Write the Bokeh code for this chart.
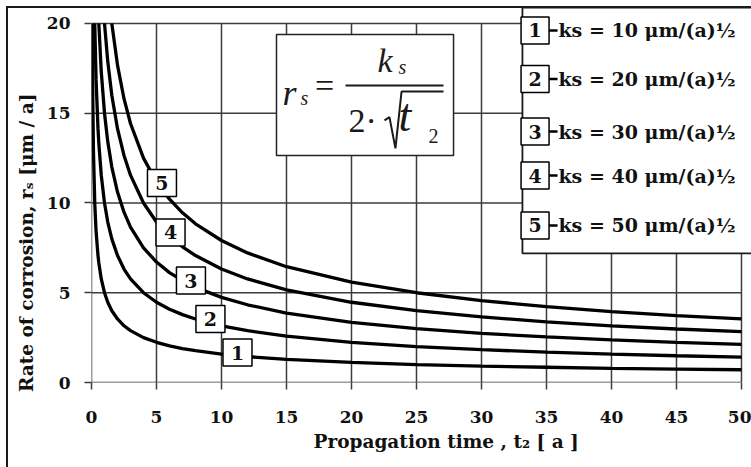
from bokeh.plotting import figure
from bokeh.models import Range1d, FixedTicker, Title
from bokeh.core.properties import value
from bokeh.embed import file_html
from bokeh.resources import INLINE

# ---------------- data ----------------
T_ALL = [0.0625, 0.1, 0.15, 0.25, 0.35, 0.5, 0.5625, 0.75, 1, 1.25, 1.5625, 2, 2.5, 3,
         4, 5, 6, 7, 8, 10, 12, 15, 20, 25, 30, 35, 40, 45, 50]
R_KS10 = [20.0, 15.81, 12.91, 10.0, 8.45, 7.07, 6.67, 5.77, 5.0, 4.47, 4.0, 3.54, 3.16, 2.89,
          2.5, 2.24, 2.04, 1.89, 1.77, 1.58, 1.44, 1.29, 1.12, 1.0, 0.91, 0.85, 0.79, 0.75, 0.71]
R_KS20 = [20.0, 16.90, 14.14, 13.33, 11.55, 10.0, 8.94, 8.0, 7.07, 6.32, 5.77, 5.0, 4.47, 4.08,
          3.78, 3.54, 3.16, 2.89, 2.58, 2.24, 2.0, 1.83, 1.69, 1.58, 1.49, 1.41]
R_KS30 = [20.0, 17.32, 15.0, 13.42, 12.0, 10.61, 9.49, 8.66, 7.5, 6.71, 6.12, 5.67, 5.30, 4.74,
          4.33, 3.87, 3.35, 3.0, 2.74, 2.54, 2.37, 2.24, 2.12]
R_KS40 = [20.0, 17.89, 16.0, 14.14, 12.65, 11.55, 10.0, 8.94, 8.16, 7.56, 7.07, 6.32, 5.77, 5.16,
          4.47, 4.0, 3.65, 3.38, 3.16, 2.98, 2.83]
R_KS50 = [20.0, 17.68, 15.81, 14.43, 12.5, 11.18, 10.21, 9.45, 8.84, 7.91, 7.22, 6.45, 5.59, 5.0,
          4.56, 4.23, 3.95, 3.73, 3.54]
SERIES = [R_KS10, R_KS20, R_KS30, R_KS40, R_KS50]
SERIES_NAMES = ["1", "2", "3", "4", "5"]
LEGEND_TEXTS = ["ks = 10 \u03bcm/(a)\u00bd", "ks = 20 \u03bcm/(a)\u00bd", "ks = 30 \u03bcm/(a)\u00bd",
                "ks = 40 \u03bcm/(a)\u00bd", "ks = 50 \u03bcm/(a)\u00bd"]
CURVE_LABEL_X = [11.23, 9.15, 7.65, 6.08, 5.42]
CURVE_LABEL_Y = [1.67, 3.54, 5.68, 8.36, 11.11]

XTICKS = [0, 5, 10, 15, 20, 25, 30, 35, 40, 45, 50]
YTICKS = [0, 5, 10, 15, 20]
X_TITLE = "Propagation time , t\u2082 [ a ]"
Y_TITLE = "Rate of corrosion, r\u209b [\u03bcm / a]"

# ---------------- styling ----------------
FONT = "DejaVu Serif"
MATH_FONT = "Liberation Serif"
GRID_COLOR = "#3c3c3c"
INK = "#111111"

p = figure(width=751, height=467,
           x_range=Range1d(0, 50.77), y_range=Range1d(0, 21.28),
           output_backend="svg", toolbar_location=None,
           min_border_left=91, min_border_right=0, min_border_top=0, min_border_bottom=85)
p.outline_line_color = None
p.grid.visible = False
p.background_fill_color = None
p.border_fill_color = None
p.styles = {"background-color": "white",
            "box-shadow": "inset 6px 6px 0 0 white, inset 8px 8px 0 0 #1a1a1a"}

for ax, ticks, standoff in ((p.xaxis, XTICKS, 21), (p.yaxis, YTICKS, 14)):
    ax.ticker = FixedTicker(ticks=ticks)
    ax.axis_line_color = None
    ax.major_tick_out = 7
    ax.major_tick_in = 0
    ax.minor_tick_line_color = None
    ax.major_tick_line_color = GRID_COLOR
    ax.major_tick_line_width = 1.5
    ax.major_label_text_font = FONT
    ax.major_label_text_font_style = "bold"
    ax.major_label_text_font_size = "17px"
    ax.major_label_text_color = INK
    ax.major_label_standoff = standoff

p.add_layout(Title(text=X_TITLE, align="left", offset=222, standoff=7,
                   text_font=FONT, text_font_style="bold", text_font_size="18.5px",
                   text_color=INK), "below")
p.add_layout(Title(text=Y_TITLE, align="right", offset=93, standoff=14,
                   text_font=FONT, text_font_style="bold", text_font_size="18.5px",
                   text_color=INK), "left")

# grid (bounded to the data area)
XMIN, XMAX = XTICKS[0], XTICKS[-1]
YMIN, YMAX = YTICKS[0], YTICKS[-1]
p.segment(x0=XTICKS, y0=[YMIN] * len(XTICKS), x1=XTICKS, y1=[YMAX] * len(XTICKS),
          line_color=GRID_COLOR, line_width=1.5)
p.segment(x0=[XMIN] * len(YTICKS), y0=YTICKS, x1=[XMAX] * len(YTICKS), y1=YTICKS,
          line_color=GRID_COLOR, line_width=1.5)

# curves
for r in SERIES:
    t = T_ALL[len(T_ALL) - len(r):]
    p.line(t, r, line_color="black", line_width=3.3)

# number boxes on the curves
p.rect(x=CURVE_LABEL_X, y=CURVE_LABEL_Y, width=29, height=27,
       width_units="screen", height_units="screen",
       fill_color="white", line_color="black", line_width=1.5)
p.text(x=CURVE_LABEL_X, y=CURVE_LABEL_Y, text=SERIES_NAMES,
       text_font=value(FONT), text_font_style="bold", text_font_size="19px",
       text_align="center", text_baseline="middle", text_color=INK)

# formula box:  r_s = k_s / (2 * sqrt(t_2))
FX0, FX1, FY1, FY0 = 14.23, 27.85, 19.39, 12.65
p.quad(left=FX0, right=FX1, top=FY1, bottom=FY0,
       fill_color="white", line_color="#222222", line_width=1.5)

def mtext(x, y, text, size, style="normal"):
    p.text(x=[x], y=[y], text=[text], text_font=value(MATH_FONT), text_font_size=size,
           text_font_style=style, text_align="left", text_baseline="alphabetic",
           text_color="#1a1a1a")

mtext(14.69, 16.12, "r", "36px", "italic")
mtext(16.08, 15.87, "s", "20px", "italic")
mtext(17.20, 16.55, "=", "34px")
p.segment(x0=[19.54], y0=[16.55], x1=[27.08], y1=[16.55], line_color="#1a1a1a", line_width=2)
mtext(22.0, 17.93, "k", "34px", "italic")
mtext(23.62, 17.60, "s", "20px", "italic")
mtext(19.77, 14.59, "2\u00b7", "34px")
# radical sign with its bar
p.line(x=[22.54, 22.92, 23.38, 23.85, 27.08], y=[14.6, 14.78, 13.04, 16.21, 16.21],
       line_color="#1a1a1a", line_width=2)
mtext(23.62, 14.90, "t", "46px", "italic")
mtext(25.92, 13.75, "2", "20px")

# legend box (extends past the top/right of the frame)
LEG_LEFT, LEG_BOTTOM, LEG_TOP = 33.15, 7.19, 20.88
LEG_ROWS_Y = [19.61, 16.91, 13.98, 11.53, 8.75]
LEG_BOX_X = 34.12
LEG_LINE_X0, LEG_LINE_X1 = 35.19, 35.85
LEG_TEXT_X = 35.92
p.quad(left=LEG_LEFT, right=60, top=LEG_TOP, bottom=LEG_BOTTOM,
       fill_color="white", line_color="#1a1a1a", line_width=1.8)
p.segment(x0=[LEG_LINE_X0] * 5, y0=LEG_ROWS_Y, x1=[LEG_LINE_X1] * 5, y1=LEG_ROWS_Y,
          line_color="black", line_width=2.5)
p.rect(x=[LEG_BOX_X] * 5, y=LEG_ROWS_Y, width=28, height=27,
       width_units="screen", height_units="screen",
       fill_color="white", line_color="black", line_width=1.5)
p.text(x=[LEG_BOX_X] * 5, y=LEG_ROWS_Y, text=SERIES_NAMES,
       text_font=value(FONT), text_font_style="bold", text_font_size="19px",
       text_align="center", text_baseline="middle", text_color=INK)
p.text(x=[LEG_TEXT_X] * 5, y=LEG_ROWS_Y, text=LEGEND_TEXTS,
       text_font=value(FONT), text_font_style="bold", text_font_size="19px",
       text_align="left", text_baseline="middle", text_color=INK)

open("out.html", "w").write(file_html(p, INLINE))
